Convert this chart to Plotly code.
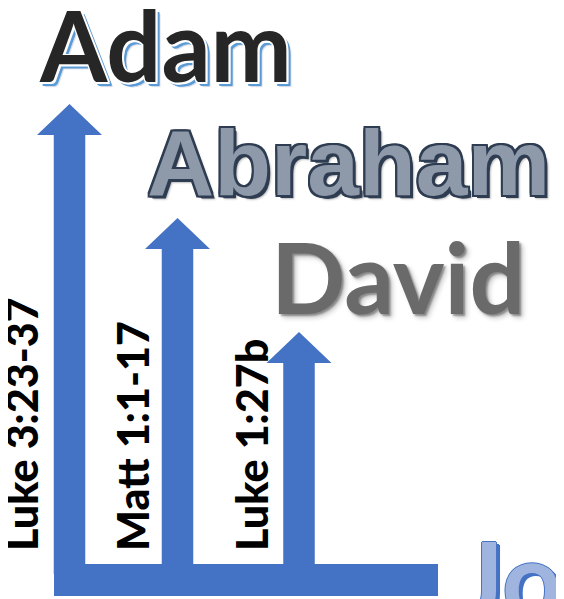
import plotly.graph_objects as go

# ---- data ----
genealogies = ["Luke 3:23-37", "Matt 1:1-17", "Luke 1:27b"]
ancestors = ["Adam", "Abraham", "David"]
reach_level = [3, 2, 1]          # how far back each genealogy reaches
origin_name = "Joseph"

# ---- layout constants (pixels / level scale) ----
W, H = 564, 599
PAGE_MARGIN = 8                  # default body margin of the html page
LEVEL_PX = 114.0                 # pixels per level
ZERO_PX = 446.0                  # pixel row of level 0
col_x = [69.5, 177.5, 299.0]     # arrow column centres (px)
SHAFT_HALF, HEAD_HALF, HEAD_PX = 15.75, 32.5, 31
BAR_TOP_PX, BAR_BOT_PX, BAR_LEFT, BAR_RIGHT = 564, 596, 54, 438
BLUE = "#4472C4"


def lv(px):
    """pixel row -> level units"""
    return (ZERO_PX - px) / LEVEL_PX


fig = go.Figure()
shapes = []
# horizontal base bar
shapes.append(dict(type="rect", xref="x", yref="y", x0=BAR_LEFT, x1=BAR_RIGHT,
                   y0=lv(BAR_BOT_PX), y1=lv(BAR_TOP_PX), fillcolor=BLUE,
                   line=dict(width=0), layer="below"))
# arrows
for cx, lvl in zip(col_x, reach_level):
    tip = lvl
    head = lvl - HEAD_PX / LEVEL_PX
    base = lv(BAR_TOP_PX + 10)
    path = (f"M {cx-SHAFT_HALF},{base} L {cx-SHAFT_HALF},{head} L {cx-HEAD_HALF},{head} "
            f"L {cx},{tip} L {cx+HEAD_HALF},{head} L {cx+SHAFT_HALF},{head} "
            f"L {cx+SHAFT_HALF},{base} Z")
    shapes.append(dict(type="path", xref="x", yref="y", path=path,
                       fillcolor=BLUE, line=dict(width=0), layer="below"))

annotations = []
# rotated genealogy labels
label_x = [21, 132, 251]
for lx, txt in zip(label_x, genealogies):
    annotations.append(dict(x=lx, y=lv(553), xref="x", yref="y", text=txt,
                            textangle=-90, showarrow=False, xanchor="center",
                            yanchor="bottom",
                            font=dict(family="Lato", size=43, color="#000000",
                                      weight=900)))

# ancestor titles
adam_shadow = ("-1px -1px 0 #fff, 1px -1px 0 #fff, -1px 1px 0 #fff, 2px 2px 0 #fff, "
               "2px 0 0 #fff, 0 2px 0 #fff, "
               "3px 3px 0 #5B9BD5, 4px 4px 0 #5B9BD5, 4px 3px 0 #5B9BD5, 3px 4px 0 #5B9BD5, "
               "5px 5px 1px #cfd8e6")
abraham_shadow = ("-2px 0 0 #2f3d52, 2px 0 0 #2f3d52, 0 -2px 0 #2f3d52, 0 2px 0 #2f3d52, "
                  "-2px -2px 0 #2f3d52, 2px 2px 0 #2f3d52, -2px 2px 0 #2f3d52, 2px -2px 0 #2f3d52, "
                  "3px 3px 0 #2f3d52, 4px 4px 2px rgba(0,0,0,0.25)")
david_shadow = "2px 2px 2px rgba(0,0,0,0.35), 4px 4px 5px rgba(0,0,0,0.2)"
title_styles = [
    dict(family="Lato", size=97, color="#262626", weight="bold", shadow=adam_shadow),
    dict(family="Liberation Sans", size=93, color="#8e99aa", weight="bold", shadow=abraham_shadow),
    dict(family="Lato", size=98, color="#6a6a6a", weight="bold", shadow=david_shadow),
]
title_left = [37, 145, 269]
title_mid_px = [44, 163, 276]
for tx, ty, txt, st in zip(title_left, title_mid_px, ancestors, title_styles):
    annotations.append(dict(x=tx, y=lv(ty), xref="x", yref="y", text=txt,
                            showarrow=False, xanchor="left", yanchor="middle",
                            font=st))

# origin name (cut off at the bottom right, as in the original)
annotations.append(dict(x=457, y=lv(576), xref="x", yref="y", text=origin_name,
                        showarrow=False, xanchor="left", yanchor="middle",
                        font=dict(family="Lato", size=104, color="#9fb5e0", weight="bold",
                                  shadow="-1px 0 0 #4472C4, 1px 0 0 #4472C4, 0 -1px 0 #4472C4, "
                                         "3px 2px 0 #4472C4, 4px 3px 0 #4472C4")))

fig.update_layout(
    width=W - PAGE_MARGIN, height=H - PAGE_MARGIN, margin=dict(l=0, r=0, t=0, b=0),
    paper_bgcolor="white", plot_bgcolor="white",
    xaxis=dict(range=[PAGE_MARGIN, W], visible=False, fixedrange=True),
    yaxis=dict(range=[lv(H), lv(PAGE_MARGIN)], visible=False, fixedrange=True),
    shapes=shapes, annotations=annotations, showlegend=False,
)
fig.write_html("out.html")
